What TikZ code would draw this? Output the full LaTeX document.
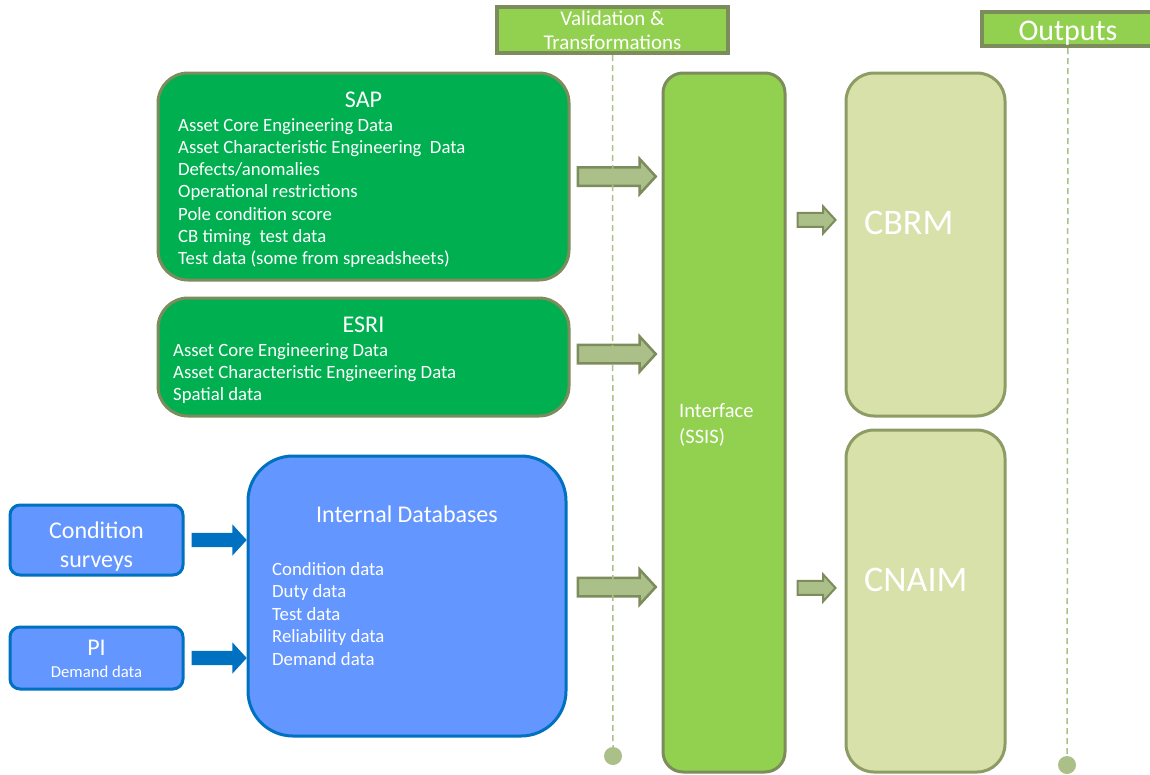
\documentclass[tikz,border=0pt]{standalone}
\usepackage{fontspec}
\setmainfont{Carlito}
\usetikzlibrary{positioning,shapes.arrows,calc}

\definecolor{sapgreen}{RGB}{0,176,80}
\definecolor{limegreen}{RGB}{146,208,80}
\definecolor{olivegrey}{RGB}{124,140,92}
\definecolor{olivefill}{RGB}{170,192,136}
\definecolor{outfill}{RGB}{216,225,170}
\definecolor{outedge}{RGB}{140,156,100}
\definecolor{dbblue}{RGB}{100,150,255}
\definecolor{dbedge}{RGB}{0,112,192}

\tikzset{
  srcbox/.style={draw=olivegrey, line width=3pt, fill=sapgreen, rounded corners=30pt, inner sep=0pt},
  blubox/.style={draw=dbedge, line width=3pt, fill=dbblue, rounded corners=10pt, inner sep=0pt},
  outbox/.style={draw=outedge, line width=3pt, fill=outfill, rounded corners=28pt, inner sep=0pt},
  headbox/.style={draw=olivegrey, line width=4pt, fill=limegreen, inner sep=0pt},
  item/.style={text=white, inner sep=0pt, font=\fontsize{18.75}{22}\selectfont},
  bigtitle/.style={text=white, inner sep=0pt, font=\fontsize{24}{28}\selectfont},
  fatarrow/.style={single arrow, draw=olivegrey, line width=2.5pt, fill=olivefill,
    inner xsep=0pt, inner ysep=8pt, single arrow head extend=8.5pt,
    single arrow tip angle=95, minimum height=78pt},
  thinarrow/.style={fatarrow, inner ysep=6pt, single arrow head extend=6.5pt,
    minimum height=38pt, line width=2pt},
  bluarrow/.style={single arrow, fill=dbedge, inner xsep=0pt, inner ysep=7pt,
    single arrow head extend=8.5pt, single arrow tip angle=95, minimum height=55pt},
  guide/.style={dashed, dash pattern=on 6pt off 4pt, draw=olivefill, line width=1.5pt},
  dot/.style={circle, fill=olivefill, minimum size=18pt, inner sep=0pt}
}

\begin{document}
\begin{tikzpicture}[x=1pt, y=-1pt]
\useasboundingbox (0,0) rectangle (1150,774);

% column headers
\node[headbox, minimum width=231pt, minimum height=46pt] (val) at (612.5,30) {};
\node[item, anchor=base, font=\fontsize{21}{24}\selectfont] (val-1) at (612.5,25.5) {Validation \&};
\node[item, anchor=base, font=\fontsize{21}{24}\selectfont] (val-2) at (612.5,49.5) {Transformations};
\node[headbox, minimum width=172pt, minimum height=34pt] (out) at (1068,29) {};
\node[item, anchor=base, font=\fontsize{30}{34}\selectfont] (out-1) at (1068,40) {Outputs};
\node[dot] (valdot) at (613,756) {};
\node[dot] (outdot) at (1067,765) {};

% SAP
\node[srcbox, minimum width=411pt, minimum height=207pt] (sap) at (363.5,176.5) {};
\node[bigtitle, anchor=base] (sap-t) at (363.5,107) {SAP};
\foreach \txt [count=\i] in {Asset Core Engineering Data,
    Asset Characteristic Engineering\ \ Data, Defects/anomalies,
    Operational restrictions, Pole condition score,
    CB timing\ \ test data, Test data (some from spreadsheets)}
  \node[item, anchor=base west] (sap-\i) at (178,{131+22.3*(\i-1)}) {\txt};

% ESRI
\node[srcbox, minimum width=411pt, minimum height=118pt] (esri) at (363.5,357) {};
\node[bigtitle, anchor=base] (esri-t) at (363.5,332) {ESRI};
\foreach \txt [count=\i] in {Asset Core Engineering Data,
    Asset Characteristic Engineering Data, Spatial data}
  \node[item, anchor=base west] (esri-\i) at (173,{356+22*(\i-1)}) {\txt};

% internal databases
\node[blubox, rounded corners=45pt, minimum width=318pt, minimum height=280pt] (db) at (407,596) {};
\node[bigtitle, anchor=base] (db-t) at (407,522) {Internal Databases};
\foreach \txt [count=\i] in {Condition data, Duty data, Test data,
    Reliability data, Demand data}
  \node[item, anchor=base west] (db-\i) at (272,{575+22.5*(\i-1)}) {\txt};

\node[blubox, minimum width=173pt, minimum height=70pt] (cond) at (96.5,540) {};
\node[bigtitle, anchor=base] (cond-1) at (96.5,538) {Condition};
\node[bigtitle, anchor=base] (cond-2) at (96.5,567) {surveys};
\node[blubox, minimum width=173pt, minimum height=62pt] (pi) at (96.5,658) {};
\node[bigtitle, anchor=base] (pi-1) at (96.5,655) {PI};
\node[item, anchor=base, font=\fontsize{16.7}{20}\selectfont] (pi-2) at (96.5,677) {Demand data};

% interface and outputs
\node[headbox, line width=3pt, rounded corners=20pt, minimum width=122pt, minimum height=699pt] (iface) at (724,422.5) {};
\node[item, anchor=base west, font=\fontsize{20.5}{24}\selectfont] (iface-1) at (679,417) {Interface};
\node[item, anchor=base west, font=\fontsize{20.5}{24}\selectfont] (iface-2) at (679,443) {(SSIS)};
\node[outbox, minimum width=159pt, minimum height=343pt] (cbrm) at (925.5,244.5) {};
\node[item, anchor=base west, font=\fontsize{36}{40}\selectfont] (cbrm-t) at (864,234.5) {CBRM};
\node[outbox, minimum width=159pt, minimum height=342pt] (cnaim) at (925.5,601) {};
\node[item, anchor=base west, font=\fontsize{36}{40}\selectfont] (cnaim-t) at (864,591.5) {CNAIM};

% arrows
\node[bluarrow, right=7pt of cond] (a-cond) {};
\node[bluarrow, right=7pt of pi] (a-pi) {};
\node[fatarrow, right=6pt of sap] (a-sap) {};
\node[fatarrow, anchor=west] (a-esri) at ([shift={(6,-3)}]esri.east) {};
\node[fatarrow, anchor=west] (a-db) at ([shift={(9,-9)}]db.east) {};
\node[thinarrow, anchor=west] (a-cbrm) at ([shift={(10,-3)}]iface.east |- cbrm-t.west) {};
\node[thinarrow, anchor=west] (a-cnaim) at ([shift={(10,8)}]iface.east |- cnaim-t.west) {};

\draw[guide] (val) -- (valdot);
\draw[guide] (out) -- (outdot);
\end{tikzpicture}
\end{document}
